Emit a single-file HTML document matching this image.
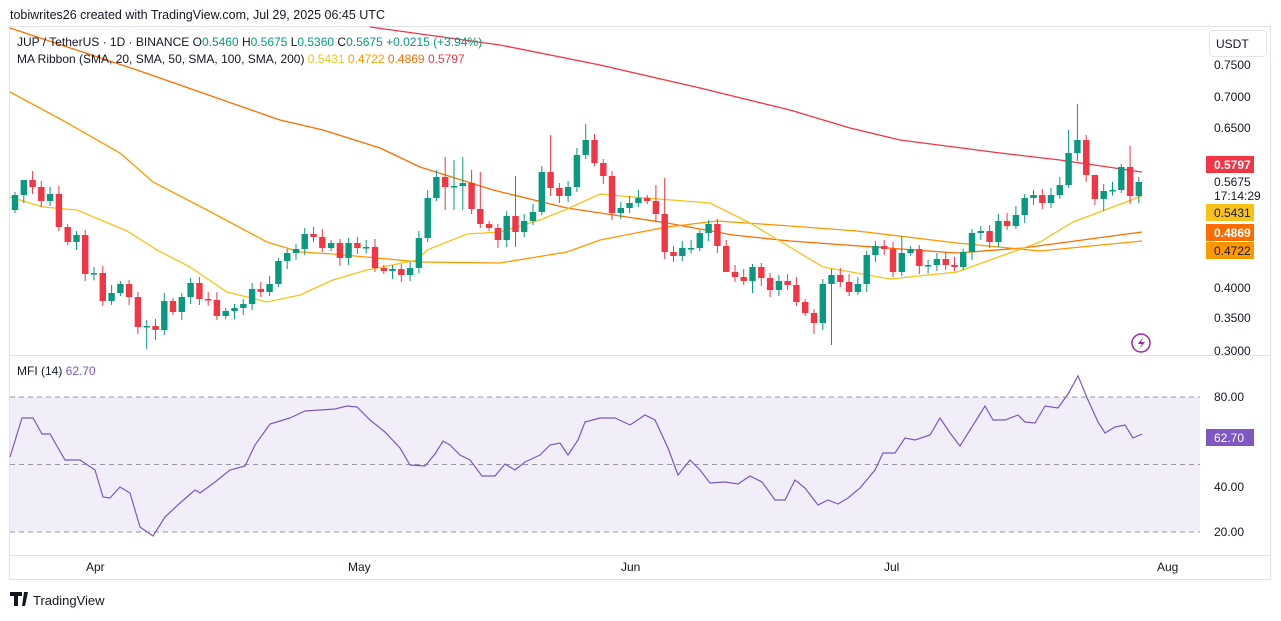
<!DOCTYPE html>
<html><head><meta charset="utf-8"><style>
body{margin:0;background:#fff;width:1281px;height:616px;overflow:hidden;font-family:"Liberation Sans",sans-serif}
svg text{font-family:"Liberation Sans",sans-serif}
</style></head><body>
<svg id="s" width="1281" height="616" xmlns="http://www.w3.org/2000/svg">
<rect width="1281" height="616" fill="#fff"/>
<text x="10" y="19" font-size="12.5" fill="#131722">tobiwrites26 created with TradingView.com, Jul 29, 2025 06:45 UTC</text>
<rect x="9.5" y="26.5" width="1261" height="553" fill="none" stroke="#e0e3eb"/>
<line x1="10" y1="355.5" x2="1270" y2="355.5" stroke="#e0e3eb"/>
<line x1="10" y1="555.5" x2="1270" y2="555.5" stroke="#e0e3eb"/>
<rect x="10" y="397" width="1190" height="135" fill="#7e57c2" fill-opacity="0.1"/>
<g stroke="#787b86" stroke-dasharray="5,4" stroke-width="0.8">
<line x1="10" y1="397" x2="1200" y2="397"/><line x1="10" y1="464.5" x2="1200" y2="464.5"/><line x1="10" y1="532" x2="1200" y2="532"/>
</g>
<g id="ma" fill="none" stroke-width="1.3"></g>
<g id="c"></g>
<polyline id="mfi" fill="none" stroke="#7e57c2" stroke-width="1.2"/>
<g font-size="12" fill="#131722">
<text x="17" y="46">JUP / TetherUS · 1D · BINANCE  O<tspan fill="#089981">0.5460</tspan>  H<tspan fill="#089981">0.5675</tspan>  L<tspan fill="#089981">0.5360</tspan>  C<tspan fill="#089981">0.5675  +0.0215 (+3.94%)</tspan></text>
<text x="17" y="63">MA Ribbon (SMA, 20, SMA, 50, SMA, 100, SMA, 200)  <tspan fill="#f7c31a">0.5431</tspan>  <tspan fill="#ff9800">0.4722</tspan>  <tspan fill="#ff6d00">0.4869</tspan>  <tspan fill="#f23645">0.5797</tspan></text>
<text x="17" y="375">MFI (14)  <tspan fill="#7e57c2">62.70</tspan></text>
</g>
<rect x="1209.5" y="30.5" width="57" height="26" rx="4" fill="#fff" stroke="#e0e3eb"/>
<text x="1216" y="48" font-size="12" fill="#131722">USDT</text>
<g font-size="12" fill="#131722">
<text x="1214" y="69">0.7500</text><text x="1214" y="101">0.7000</text><text x="1214" y="132">0.6500</text>
<text x="1214" y="292">0.4000</text><text x="1214" y="322">0.3500</text><text x="1214" y="355">0.3000</text>
<text x="1214" y="186">0.5675</text><text x="1214" y="200">17:14:29</text>
<text x="1214" y="401">80.00</text><text x="1214" y="491">40.00</text><text x="1214" y="536">20.00</text>
</g>
<rect x="1206" y="156" width="48" height="17" fill="#f23645"/><text x="1214" y="169" font-size="12" fill="#fff" font-weight="bold">0.5797</text>
<rect x="1206" y="204" width="48" height="17" fill="#f7c31a"/><text x="1214" y="217" font-size="12" fill="#131722">0.5431</text>
<rect x="1206" y="224" width="48" height="17" fill="#ff6d00"/><text x="1214" y="237" font-size="12" fill="#fff" font-weight="bold">0.4869</text>
<rect x="1206" y="242" width="48" height="17" fill="#ff9800"/><text x="1214" y="255" font-size="12" fill="#131722">0.4722</text>
<rect x="1206" y="429" width="48" height="17" fill="#7e57c2"/><text x="1214" y="442" font-size="12" fill="#fff">62.70</text>
<circle cx="1141" cy="343" r="9" fill="none" stroke="#9c27b0" stroke-width="1.5"/>
<path d="M1143 337 L1138 344 L1142 344 L1139 349 L1145 342 L1141 342 Z" fill="#9c27b0"/>
<g font-size="12" fill="#131722">
<text x="86" y="571">Apr</text><text x="348" y="571">May</text><text x="621" y="571">Jun</text><text x="884" y="571">Jul</text><text x="1157" y="571">Aug</text>
</g>
<path d="M10 592h12v4h-4v10h-4v-10h-4z M24 592h4l-3 14h-3z" fill="#131722"/>
<text x="33" y="605" font-size="13" fill="#131722">TradingView</text>
</svg>
<script>
var NS="http://www.w3.org/2000/svg";
var cl=[195,180,187,201,194,227,242,235,274,273,301,293,284,297,327,326,330,301,312,297,283,299,300,316,311,308,304,289,292,284,261,253,249,234,237,248,243,258,243,248,247,268,271,269,275,268,238,198,177,187,186,183,209,224,228,240,216,232,221,212,172,188,196,187,155,140,163,176,213,208,203,198,201,214,252,256,248,248,233,224,246,272,277,281,267,278,290,281,285,302,313,323,284,275,282,292,284,255,246,249,272,253,249,266,265,259,265,267,252,233,231,242,221,226,215,198,195,203,195,185,153,140,175,199,191,190,167,196,182];
var opens0=210;var g=document.getElementById("c");var h="";
var hi={1:182,2:171,48:170,49:157,50:160,51:157,52:170,60:166,61:135,65:124,66:134,53:172,73:185,74:178,96:277,101:236,121:104,120:130,127:146,123:180,114:206,57:176};
var lo={15:349,16:340,17:335,49:210,50:210,51:210,84:293,93:345,91:334,92:330,124:211,81:264,57:247};
for(var i=0;i<cl.length;i++){var o=i==0?opens0:cl[i-1];var c=cl[i];var x=15+i*8.78;
var up=c<=o;var col=up?"#089981":"#f23645";var t=Math.min(o,c),b=Math.max(o,c);if(b-t<1.5){b=t+1.5;}
var H=hi[i]!==undefined?hi[i]:t-3-(i*7%6);var L=lo[i]!==undefined?lo[i]:b+3+(i*5%6);
h+='<line x1="'+x.toFixed(1)+'" x2="'+x.toFixed(1)+'" y1="'+H+'" y2="'+L+'" stroke="'+col+'" stroke-width="1"/>';
h+='<rect x="'+(x-3.2).toFixed(1)+'" y="'+t+'" width="6.4" height="'+(b-t)+'" fill="'+col+'"/>';}
g.innerHTML=h;
var ma=document.getElementById("ma");
function pl(p,c){return '<polyline stroke="'+c+'" points="'+p+'"/>';}
ma.innerHTML=
pl("370,27 500,45 600,65 700,88 790,110 850,128 900,140 1000,153 1060,160 1142,172","#f23645")+
pl("10,28 137,70 280,120 323,130 380,148 420,167 493,190 567,208 667,223 733,235 790,241 957,253 1023,248 1142,232","#ff6d00")+
pl("10,92 62,120 120,153 153,182 207,210 267,242 300,252 333,254 420,262 500,263 567,252 600,240 667,227 717,221 790,226 857,231 957,243 1040,251 1142,241","#ff9800")+
pl("10,197 43,207 77,210 127,231 157,250 190,267 227,292 267,302 300,295 333,280 367,270 417,260 427,250 467,234 500,232 540,220 567,209 600,194 633,197 710,203 750,223 783,243 823,267 890,279 957,272 990,260 1040,242 1073,222 1142,196","#f7c31a");
document.getElementById("mfi").setAttribute("points","10,457 22,418 33,418 42,434 50,434 65,460 80,460 95,470 103,497 110,498 120,487 130,493 140,527 153,536 165,517 180,503 195,490 200,493 215,482 230,470 245,466 255,445 270,424 280,421 290,418 305,411 320,410 335,409 347,406 357,407 370,420 385,432 400,448 410,465 425,466 435,454 443,441 450,445 460,455 470,460 482,476 495,476 505,464 515,470 525,462 540,455 550,445 560,443 568,455 578,440 585,422 600,418 615,418 630,425 645,415 655,420 668,448 678,475 690,460 700,470 710,483 725,482 738,484 750,476 762,482 775,500 785,500 795,480 805,488 818,505 828,500 838,504 848,498 860,488 875,470 883,453 895,453 905,438 915,440 930,435 940,418 950,433 960,446 970,430 985,406 993,420 1005,420 1018,415 1025,422 1035,423 1045,406 1058,408 1068,394 1078,376 1088,400 1098,422 1105,433 1115,427 1125,425 1133,438 1142,434");
</script>
</body></html>
